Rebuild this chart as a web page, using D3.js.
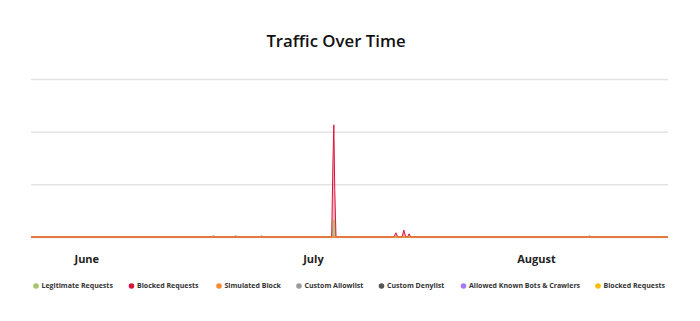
<!DOCTYPE html>
<meta charset="utf-8">
<style>
    body { margin: 0; background: #fff; }
    text { font-family: "Open Sans", sans-serif; }
    .grid line { stroke: #e3e3e3; stroke-width: 1.5; }
    .grid .domain { display: none; }
    .month text { font-weight: 700; font-size: 11px; fill: #222; }
    .legend text { font-weight: 700; font-size: 7px; fill: #333; }
</style>
<script src="https://d3js.org/d3.v7.min.js"></script>
<body>
<script>
    var width = 700;
    var height = 321;

    var parse = d3.timeParse("%Y-%m-%d %H:%M");

    // legend / series names and colours
    var seriesNames = ["Legitimate Requests", "Blocked Requests", "Simulated Block", "Custom Allowlist",
        "Custom Denylist", "Allowed Known Bots & Crawlers", "Blocked Requests"];
    var seriesColors = ["#a5c46e", "#dc143c", "#f78a32", "#9a9a9a", "#555555", "#a57cf5", "#fbbd0c"];

    // month labels on the x axis
    var monthTicks = ["2023-06-01 00:00", "2023-07-01 18:00", "2023-08-01 00:00"];

    // sparse readings: the series sit on zero except where listed
    var legitTimes = ["2023-05-24 12:00", "2023-06-18 00:00", "2023-06-18 06:00", "2023-06-18 12:00",
        "2023-06-21 00:00", "2023-06-21 06:00", "2023-06-21 12:00",
        "2023-06-24 12:00", "2023-06-24 18:00", "2023-06-25 00:00",
        "2023-07-04 08:00", "2023-07-04 13:00", "2023-07-04 16:00", "2023-07-04 20:00",
        "2023-08-08 00:00", "2023-08-08 06:00", "2023-08-08 12:00", "2023-08-18 22:00"];
    var legitValues = [0, 0, 35, 0, 0, 35, 0, 0, 30, 0, 0, 330, 320, 0, 0, 30, 0, 0];

    var blockedTimes = ["2023-05-24 12:00", "2023-07-04 07:00", "2023-07-04 11:00", "2023-07-04 14:00",
        "2023-07-04 17:00", "2023-07-04 21:00",
        "2023-07-12 18:00", "2023-07-13 00:00", "2023-07-13 06:00",
        "2023-07-13 20:00", "2023-07-14 02:00", "2023-07-14 08:00",
        "2023-07-14 14:00", "2023-07-14 19:00", "2023-07-15 00:00", "2023-08-18 22:00"];
    var blockedValues = [0, 0, 1400, 2130, 900, 0, 0, 80, 0, 0, 130, 0, 0, 60, 0, 0];

    var zeroTimes = ["2023-05-24 12:00", "2023-08-18 22:00"];
    var zeroValues = [0, 0];

    var yTicks = [0, 1000, 2000, 3000];

    function pairs(times, values) {
        return times.map(function(t, i) { return { date: parse(t), value: values[i] }; });
    }

    var series = [
        pairs(legitTimes, legitValues),
        pairs(blockedTimes, blockedValues),
        pairs(zeroTimes, zeroValues),
        pairs(zeroTimes, zeroValues),
        pairs(zeroTimes, zeroValues),
        pairs(zeroTimes, zeroValues),
        pairs(zeroTimes, zeroValues)
    ];

    var x = d3.scaleTime()
        .domain([parse("2023-05-24 12:00"), parse("2023-08-18 22:00")])
        .range([31, 668]);
    var y = d3.scaleLinear()
        .domain([0, 3000])
        .range([237, 79]);

    var svg = d3.select("body").append("svg")
        .attr("width", width)
        .attr("height", height);

    svg.append("text")
        .attr("x", 336)
        .attr("y", 47)
        .attr("text-anchor", "middle")
        .style("font-size", "16.8px")
        .style("font-weight", 600)
        .style("fill", "#111")
        .text("Traffic Over Time");

    svg.append("g")
        .attr("class", "grid")
        .attr("transform", "translate(31,0)")
        .call(d3.axisLeft(y).tickValues(yTicks).tickSize(-637).tickFormat(""));

    var area = d3.area()
        .x(function(d) { return x(d.date); })
        .y0(y(0))
        .y1(function(d) { return y(d.value); });
    var line = d3.line()
        .x(function(d) { return x(d.date); })
        .y(function(d) { return y(d.value); });

    // translucent areas for the two spiking series
    svg.append("path")
        .datum(series[1])
        .attr("d", area)
        .attr("fill", seriesColors[1])
        .attr("fill-opacity", 0.3);
    svg.append("path")
        .datum(series[0])
        .attr("d", area)
        .attr("fill", seriesColors[0])
        .attr("fill-opacity", 0.7);

    // draw order: zero lines first, orange baseline on top, then spikes
    var order = [3, 4, 5, 6, 0, 1, 2];
    order.forEach(function(i) {
        svg.append("path")
            .datum(series[i])
            .attr("d", line)
            .attr("fill", "none")
            .attr("stroke", seriesColors[i])
            .attr("stroke-opacity", i == 2 ? 0.8 : 1)
            .attr("stroke-width", i == 2 ? 1.6 : 1);
    });

    var xAxis = svg.append("g")
        .attr("class", "month")
        .attr("transform", "translate(0,251)")
        .call(d3.axisBottom(x)
            .tickValues(monthTicks.map(parse))
            .tickSize(0)
            .tickFormat(d3.timeFormat("%B")));
    xAxis.select(".domain").remove();
    xAxis.selectAll("text").attr("dy", "0.71em").attr("y", 4);

    var legendX = [36, 131.5, 219, 299, 381.5, 463.5, 598];
    var legend = svg.append("g").attr("class", "legend");
    seriesNames.forEach(function(name, i) {
        var g = legend.append("g").attr("transform", "translate(" + legendX[i] + ",286)");
        g.append("circle").attr("r", 2.8).attr("fill", seriesColors[i]);
        g.append("text").attr("x", 5.5).attr("dy", "0.35em").text(name);
    });
</script>
